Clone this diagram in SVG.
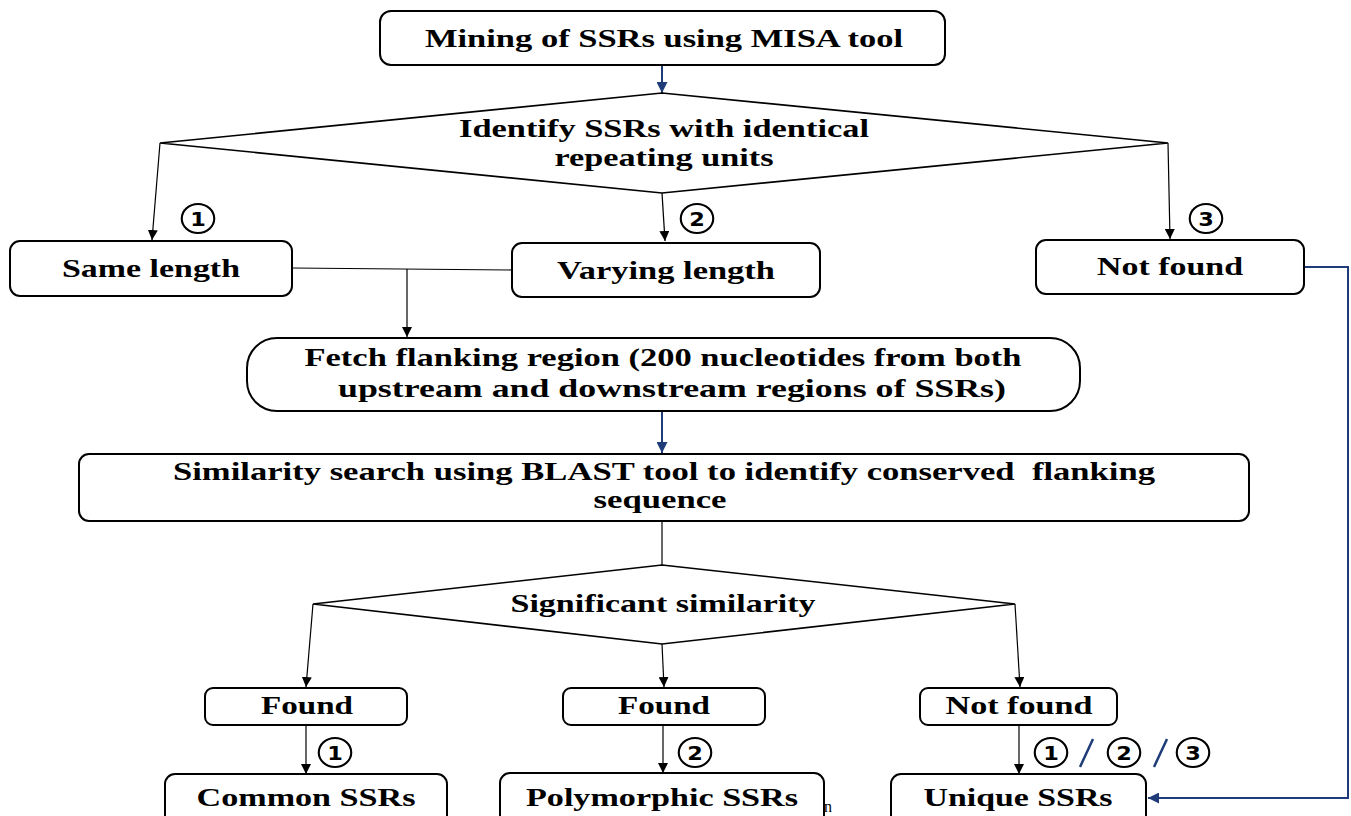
<svg xmlns="http://www.w3.org/2000/svg" width="1351" height="816" viewBox="0 0 1351 816">
<style>
.box{fill:#fff;stroke:#000;stroke-width:2}
.dia{fill:#fff;stroke:#000;stroke-width:1.6}
.t{font-family:"Liberation Serif","Times New Roman",serif;font-weight:bold;font-size:26px;fill:#000;text-anchor:middle}
.c{fill:#fff;stroke:#000;stroke-width:1.9}
.d{font-family:"DejaVu Sans",sans-serif;font-weight:bold;font-size:20px;fill:#000;text-anchor:middle}
.ln{fill:none;stroke:#000;stroke-width:1.2}
.bl{fill:none;stroke:#1f3c78;stroke-width:2}
.sl{stroke:#1f3c78;stroke-width:2.5}
</style>
<defs>
<marker id="ah" viewBox="0 0 10 10" refX="10" refY="5" markerWidth="10" markerHeight="10" markerUnits="userSpaceOnUse" orient="auto"><path d="M0,0 L10,5 L0,10 Z" fill="#000"/></marker>
<marker id="ahb" viewBox="0 0 10 10" refX="10" refY="5" markerWidth="12" markerHeight="11" markerUnits="userSpaceOnUse" orient="auto"><path d="M0,0 L10,5 L0,10 Z" fill="#1f3c78"/></marker>
</defs>

<g id="connectors">
<line class="bl" x1="662" y1="65" x2="662" y2="93" marker-end="url(#ahb)"/>
<line class="ln" x1="160" y1="143" x2="152" y2="240" marker-end="url(#ah)"/>
<line class="ln" x1="662" y1="193" x2="665" y2="241" marker-end="url(#ah)"/>
<line class="ln" x1="1168" y1="143" x2="1170" y2="239" marker-end="url(#ah)"/>
<polyline class="ln" points="292,268 512,270"/>
<line class="ln" x1="407" y1="269" x2="407" y2="337" marker-end="url(#ah)"/>
<line class="bl" x1="662" y1="411" x2="662" y2="453" marker-end="url(#ahb)"/>
<line class="ln" x1="662" y1="521" x2="662" y2="565"/>
<line class="ln" x1="313" y1="604" x2="306" y2="687" marker-end="url(#ah)"/>
<line class="ln" x1="662" y1="644" x2="664" y2="687" marker-end="url(#ah)"/>
<line class="ln" x1="1015" y1="604" x2="1020" y2="687" marker-end="url(#ah)"/>
<line class="ln" x1="306" y1="725" x2="306" y2="774" marker-end="url(#ah)"/>
<line class="ln" x1="663" y1="725" x2="663" y2="773" marker-end="url(#ah)"/>
<line class="ln" x1="1019" y1="725" x2="1019" y2="774" marker-end="url(#ah)"/>
<polyline class="bl" points="1304,267 1348,267 1348,798 1148,798" marker-end="url(#ahb)"/>
</g>

<g id="mining"><rect class="box" x="380" y="11" width="565" height="54" rx="11"/>
<text class="t" x="664" y="47" textLength="478" lengthAdjust="spacingAndGlyphs">Mining of SSRs using MISA tool</text></g>

<g id="identify"><polygon class="dia" points="662,93 1168,143 662,193 160,143"/>
<text class="t" x="664" y="137" textLength="410" lengthAdjust="spacingAndGlyphs">Identify SSRs with identical</text>
<text class="t" x="664" y="166" textLength="219" lengthAdjust="spacingAndGlyphs">repeating units</text></g>

<g id="n1" transform="translate(198,218.5) scale(1.12,1)"><circle class="c" r="14.5"/><text class="d" y="7.5">1</text></g>
<g id="n2" transform="translate(697,218.5) scale(1.12,1)"><circle class="c" r="14.5"/><text class="d" y="7.5">2</text></g>
<g id="n3" transform="translate(1206,218.5) scale(1.12,1)"><circle class="c" r="14.5"/><text class="d" y="7.5">3</text></g>

<g id="same"><rect class="box" x="10" y="241" width="282" height="55" rx="10"/>
<text class="t" x="151" y="277" textLength="178" lengthAdjust="spacingAndGlyphs">Same length</text></g>
<g id="varying"><rect class="box" x="512" y="243" width="308" height="54" rx="10"/>
<text class="t" x="666" y="279" textLength="218" lengthAdjust="spacingAndGlyphs">Varying length</text></g>
<g id="notfound1"><rect class="box" x="1036" y="240" width="268" height="54" rx="10"/>
<text class="t" x="1170" y="275" textLength="146" lengthAdjust="spacingAndGlyphs">Not found</text></g>

<g id="fetch"><rect class="box" x="247" y="338" width="833" height="73" rx="30"/>
<text class="t" x="663" y="366" textLength="717" lengthAdjust="spacingAndGlyphs">Fetch flanking region (200 nucleotides from both</text>
<text class="t" x="672" y="397" textLength="668" lengthAdjust="spacingAndGlyphs">upstream and downstream regions of SSRs)</text></g>

<g id="similarity"><rect class="box" x="79" y="454" width="1170" height="67" rx="10"/>
<text class="t" x="664" y="480" textLength="982" lengthAdjust="spacingAndGlyphs" xml:space="preserve">Similarity search using BLAST tool to identify conserved  flanking</text>
<text class="t" x="660" y="508" textLength="133" lengthAdjust="spacingAndGlyphs">sequence</text></g>

<g id="significant"><polygon class="dia" points="662,565 1015,604 662,644 313,604"/>
<text class="t" x="663" y="612" textLength="305" lengthAdjust="spacingAndGlyphs">Significant similarity</text></g>

<g id="found1"><rect class="box" x="205" y="688" width="202" height="37" rx="8"/>
<text class="t" x="307" y="714" textLength="92" lengthAdjust="spacingAndGlyphs">Found</text></g>
<g id="found2"><rect class="box" x="563" y="688" width="202" height="37" rx="8"/>
<text class="t" x="664" y="714" textLength="92" lengthAdjust="spacingAndGlyphs">Found</text></g>
<g id="notfound2"><rect class="box" x="920" y="688" width="197" height="37" rx="8"/>
<text class="t" x="1019" y="714" textLength="147" lengthAdjust="spacingAndGlyphs">Not found</text></g>

<g id="n1b" transform="translate(335,752.5) scale(1.12,1)"><circle class="c" r="14.5"/><text class="d" y="7.5">1</text></g>
<g id="n2b" transform="translate(695,752.5) scale(1.12,1)"><circle class="c" r="14.5"/><text class="d" y="7.5">2</text></g>
<g id="n123">
<g transform="translate(1051,752.5) scale(1.12,1)"><circle class="c" r="14.5"/><text class="d" y="7.5">1</text></g>
<line class="sl" x1="1093" y1="739" x2="1080" y2="767"/>
<g transform="translate(1124,752.5) scale(1.12,1)"><circle class="c" r="14.5"/><text class="d" y="7.5">2</text></g>
<line class="sl" x1="1167" y1="739" x2="1154" y2="767"/>
<g transform="translate(1193,752.5) scale(1.12,1)"><circle class="c" r="14.5"/><text class="d" y="7.5">3</text></g>
</g>

<g id="common"><rect class="box" x="165" y="774" width="282" height="60" rx="10"/>
<text class="t" x="306" y="806" textLength="219" lengthAdjust="spacingAndGlyphs">Common SSRs</text></g>
<g id="polymorphic"><rect class="box" x="500" y="773" width="324" height="60" rx="10"/>
<text class="t" x="662" y="806" textLength="272" lengthAdjust="spacingAndGlyphs">Polymorphic SSRs</text></g>
<g id="unique"><rect class="box" x="891" y="774" width="255" height="60" rx="10"/>
<text class="t" x="1018" y="806" textLength="189" lengthAdjust="spacingAndGlyphs">Unique SSRs</text></g>
<text x="828" y="812" font-family="Liberation Serif, serif" font-size="16" text-anchor="middle">n</text>
</svg>
